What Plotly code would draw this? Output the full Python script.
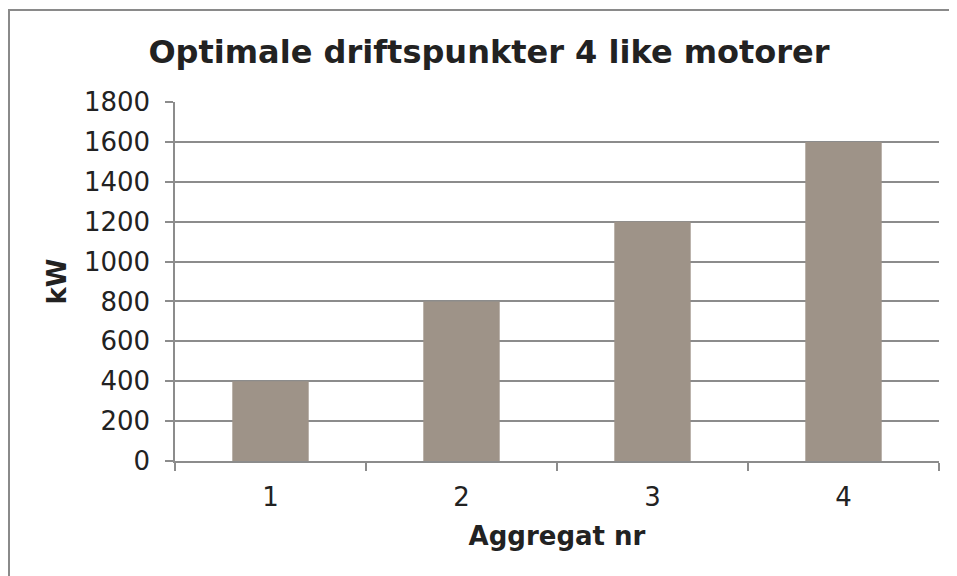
import plotly.graph_objects as go

categories = ["1", "2", "3", "4"]
values_kw = [400, 800, 1200, 1600]
y_ticks = [0, 200, 400, 600, 800, 1000, 1200, 1400, 1600, 1800]

FONT = "Verdana, DejaVu Sans, sans-serif"
GRID = "#8C8C8C"

fig = go.Figure()
fig.add_trace(go.Bar(x=categories, y=values_kw, marker=dict(color="#9E9388", line=dict(width=0)),
                     width=0.4))

# page has 8px body margin; figure coords = screen coords - 8
W, H = 949, 568
L, R, T, B = 167, 931, 94, 453
fig.update_layout(
    width=W, height=H,
    margin=dict(l=L, r=W - R, t=T, b=H - B),
    paper_bgcolor="white", plot_bgcolor="white",
    showlegend=False,
    font=dict(family=FONT, size=26, color="#222222"),
    title=dict(text="<b>Optimale driftspunkter 4 like motorer</b>", x=481 / W, xanchor="center",
               y=1 - 44 / H, yanchor="middle", font=dict(family=FONT, size=32, color="#222222")),
    xaxis=dict(type="category", showline=True, linecolor=GRID, linewidth=1.5,
               ticks="outside", tickson="boundaries", ticklen=8, tickcolor=GRID, tickwidth=1.5,
               showgrid=False, tickfont=dict(size=26), ticklabelstandoff=12,
               title=dict(text="<b>Aggregat nr</b>", standoff=16, font=dict(size=26))),
    yaxis=dict(range=[0, 1800], tickvals=y_ticks, showline=True, linecolor=GRID, linewidth=1.5,
               ticks="outside", ticklen=8, tickcolor=GRID, tickwidth=1.5,
               showgrid=True, gridcolor=GRID, gridwidth=1.5, zeroline=False,
               tickfont=dict(size=26), ticklabelstandoff=10,
               title=dict(text="<b>kW</b>", standoff=10, font=dict(size=26))),
    bargap=0.6,
)
fig.add_shape(type="rect", xref="paper", yref="paper",
              x0=(1 - L) / (R - L), x1=(960 - L) / (R - L),
              y0=(B - 580) / (B - T), y1=(B - 2) / (B - T),
              line=dict(color="#8A8A8A", width=2), fillcolor="rgba(0,0,0,0)", layer="below")
fig.write_html("out.html")
